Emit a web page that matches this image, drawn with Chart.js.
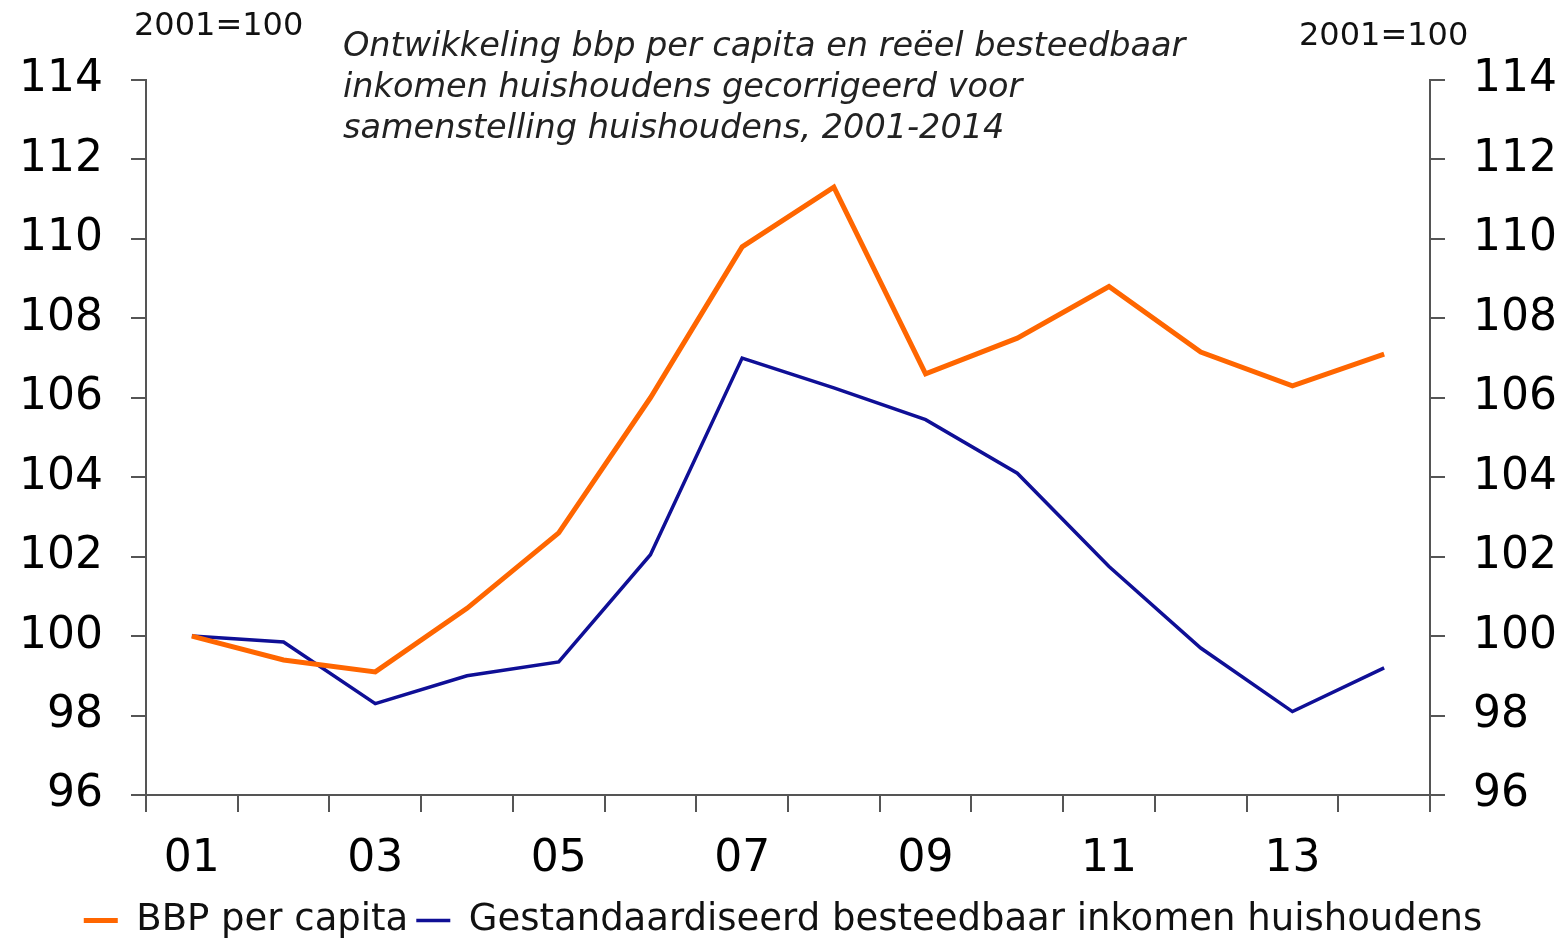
<!DOCTYPE html>
<html lang="nl">
<head>
    <meta charset="UTF-8">
    <title>Ontwikkeling bbp per capita</title>
    <style>
        html, body { margin: 0; padding: 0; background: #fff; }
        body { font-family: 'DejaVu Sans', sans-serif; }
        #wrap { position: relative; width: 1566px; height: 949px; }
        .unit { position: absolute; font-size: 32px; color: #111; }
        #title {
            position: absolute; left: 343px; top: 24px;
            font-size: 33.5px; line-height: 41px; font-style: italic; color: #222;
        }
    </style>
</head>
<body>
<div id="wrap">
    <canvas id="chart" width="1566" height="949"></canvas>
    <div class="unit" style="left:134px; top:5px;">2001=100</div>
    <div class="unit" style="left:1299px; top:15px;">2001=100</div>
    <div id="title">Ontwikkeling bbp per capita en reëel besteedbaar<br>inkomen huishoudens gecorrigeerd voor<br>samenstelling huishoudens, 2001-2014</div>
</div>

<script src="https://cdn.jsdelivr.net/npm/chart.js"></script>
<script>
    // data
    var jaren = ['01', '02', '03', '04', '05', '06', '07', '08', '09', '10', '11', '12', '13', '14'];
    var bbpPerCapita = [100, 99.4, 99.1, 100.7, 102.6, 106.0, 109.8, 111.3, 106.6, 107.5, 108.8, 107.15, 106.3, 107.1];
    var inkomen = [100, 99.85, 98.3, 99.0, 99.35, 102.05, 107.0, 106.25, 105.45, 104.1, 101.75, 99.7, 98.1, 99.2];
    var yMin = 96, yMax = 114, yStap = 2;

    var fontFam = "'DejaVu Sans', sans-serif";
    var asKleur = '#555';

    function yAs(pos) {
        return {
            position: pos,
            min: yMin, max: yMax,
            ticks: { stepSize: yStap, color: '#000', padding: 28, font: { family: fontFam, size: 44 } },
            grid: { drawOnChartArea: false, drawTicks: true, tickLength: 15, color: asKleur, lineWidth: 2 },
            border: { color: asKleur, width: 2 },
            afterFit: function (s) { s.width = pos === 'left' ? 146 : 136; }
        };
    }

    var ctx = document.getElementById('chart').getContext('2d');
    var chart = new Chart(ctx, {
        type: 'line',
        data: {
            labels: jaren,
            datasets: [{
                label: 'BBP per capita',
                data: bbpPerCapita,
                borderColor: '#ff6600',
                backgroundColor: '#ff6600',
                borderWidth: 5,
                pointRadius: 0,
                tension: 0,
                yAxisID: 'y'
            }, {
                label: 'Gestandaardiseerd besteedbaar inkomen huishoudens',
                data: inkomen,
                borderColor: '#0f0f96',
                backgroundColor: '#0f0f96',
                borderWidth: 3.5,
                pointRadius: 0,
                tension: 0,
                yAxisID: 'y'
            }]
        },
        options: {
            responsive: false,
            animation: false,
            layout: { padding: { top: 80, bottom: 0, left: 0, right: 0 } },
            plugins: {
                tooltip: { enabled: false },
                legend: {
                    position: 'bottom',
                    labels: {
                        usePointStyle: true,
                        pointStyle: 'line',
                        pointStyleWidth: 34,
                        color: '#111',
                        padding: 8,
                        font: { family: fontFam, size: 37 }
                    }
                }
            },
            scales: {
                x: {
                    offset: true,
                    ticks: {
                        color: '#000',
                        autoSkip: false,
                        maxRotation: 0,
                        padding: 21,
                        font: { family: fontFam, size: 44 },
                        callback: function (v, i) { return i % 2 === 0 ? jaren[i] : ''; }
                    },
                    grid: { offset: true, drawOnChartArea: false, drawTicks: true, tickLength: 17, color: asKleur, lineWidth: 2 },
                    border: { color: asKleur, width: 2 },
                    afterFit: function (s) { s.height = 99; }
                },
                y: yAs('left'),
                y2: yAs('right')
            }
        }
    });
</script>
</body>
</html>
